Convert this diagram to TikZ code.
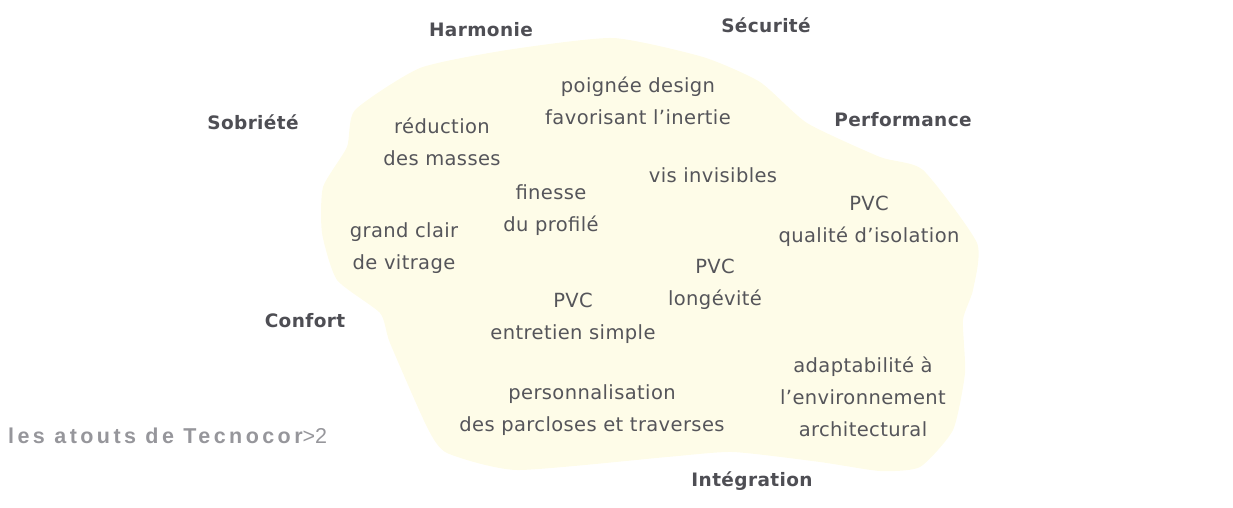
\documentclass[tikz,border=0pt]{standalone}
\usepackage{fontspec}
\setmainfont{DejaVu Sans}[LetterSpace=2]
\newfontfamily\atoutfont{Liberation Sans}[LetterSpace=16]
\definecolor{blobfill}{RGB}{254,252,232}
\definecolor{txtgrey}{RGB}{85,85,90}
\definecolor{labgrey}{RGB}{78,78,84}
\definecolor{atoutgrey}{RGB}{150,150,155}
\tikzset{
  item/.style={font=\fontsize{19.5}{32}\selectfont, text=txtgrey, align=center, inner sep=0pt},
  cat/.style={font=\fontsize{18.5}{20}\selectfont\bfseries, text=labgrey, inner sep=0pt},
}
\begin{document}
\begin{tikzpicture}[x=1pt,y=-1pt]
\useasboundingbox (0,0) rectangle (1233,507);
\fill[blobfill] plot[smooth cycle, tension=0.35] coordinates {
 (355,110) (420,68) (507,50) (613,38) (703,57) (760,82) (807,123) (880,157)
 (923,170) (977,243) (973,290) (963,320) (965,373) (953,430) (920,467)
 (880,471) (820,462) (733,452) (667,457) (517,470) (447,453) (427,427)
 (390,343) (380,313) (337,280) (322,233) (323,187) (347,147)};
% category labels
\node[cat] (harm) at (481,30) {Harmonie};
\node[cat] (secu) at (766,25) {Sécurité};
\node[cat] (sobr) at (253,122) {Sobriété};
\node[cat] (perf) at (903,120) {Performance};
\node[cat] (conf) at (305,321) {Confort};
\node[cat] (inte) at (752,481) {Intégration};
% items
\node[item] (redu) at (442,142) {réduction\\des masses};
\node[item] (poig) at (638,101) {poignée design\\favorisant l’inertie};
\node[item] (vis) at (713,175) {vis invisibles};
\node[item] (fine) at (551,210) {finesse\\du profilé};
\node[item] (gran) at (404,248) {grand clair\\de vitrage};
\node[item] (isol) at (869,221) {PVC\\qualité d’isolation};
\node[item] (long) at (715,284) {PVC\\longévité};
\node[item] (entr) at (573,318) {PVC\\entretien simple};
\node[item] (adap) at (863,397) {adaptabilité à\\l’environnement\\architectural};
\node[item] (pers) at (592,410) {personnalisation\\des parcloses et traverses};
% footer
\node[anchor=base west, inner sep=0pt, text=atoutgrey, font=\fontsize{21.5}{24}\selectfont\atoutfont] (atout) at (8,443) {\bfseries les atouts de Tecnocor\mdseries{\addfontfeature{LetterSpace=0}>2}};
\end{tikzpicture}
\end{document}
